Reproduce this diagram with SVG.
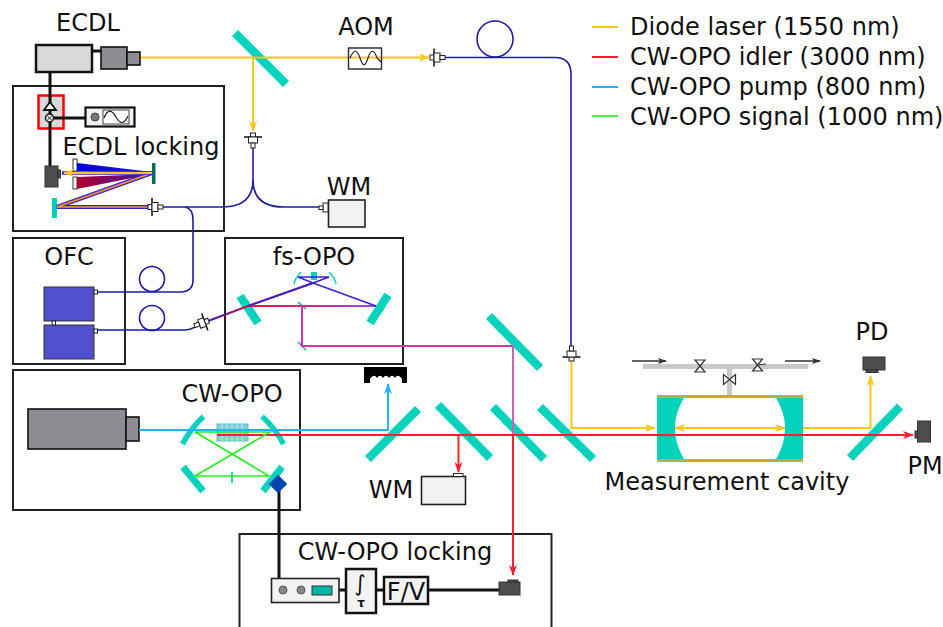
<svg xmlns="http://www.w3.org/2000/svg" width="943" height="627" viewBox="0 0 943 627">
<style>
text{font-family:"DejaVu Sans",sans-serif;font-size:24px;fill:#111}
.m{text-anchor:middle}
.box{fill:#fff;stroke:#222;stroke-width:2}
.mir{stroke:#00d2bc;stroke-width:8.5;fill:none}
.y{stroke:#ffc61a;stroke-width:2;fill:none}
.r{stroke:#ff1f2e;stroke-width:2;fill:none}
.b{stroke:#1fb4ff;stroke-width:2;fill:none}
.g{stroke:#22f01e;stroke-width:1.6;fill:none}
.f{stroke:#1c1ca8;stroke-width:1.6;fill:none}
.w{stroke:#111;stroke-width:3;fill:none}
.det{fill:#4d4d4d;stroke:#333;stroke-width:1}
.lt{fill:#f2f2f2;stroke:#222;stroke-width:1.6}
.gr{fill:#8e8c91;stroke:#111;stroke-width:1.6}
.las{fill:#5050d0;stroke:#333;stroke-width:1}
.sm{fill:#fff;stroke:#222;stroke-width:1}
.pipe{stroke:#c8c8c8;stroke-width:5;fill:none}
</style>
<defs>
<marker id="ay" markerWidth="11" markerHeight="8" refX="10" refY="4" orient="auto" markerUnits="userSpaceOnUse"><path d="M0 0L11 4L0 8L3 4Z" fill="#ffc61a"/></marker>
<marker id="ar" markerWidth="11" markerHeight="8" refX="10" refY="4" orient="auto" markerUnits="userSpaceOnUse"><path d="M0 0L11 4L0 8L3 4Z" fill="#ff1f2e"/></marker>
<marker id="ab" markerWidth="11" markerHeight="8" refX="10" refY="4" orient="auto" markerUnits="userSpaceOnUse"><path d="M0 0L11 4L0 8L3 4Z" fill="#1fb4ff"/></marker>
<marker id="ak" markerWidth="9" markerHeight="6" refX="8" refY="3" orient="auto" markerUnits="userSpaceOnUse"><path d="M0 0L9 3L0 6L2 3Z" fill="#333"/></marker>
<linearGradient id="gb" gradientUnits="userSpaceOnUse" x1="77" y1="0" x2="152" y2="0"><stop offset="0" stop-color="#0000e0"/><stop offset="1" stop-color="#3a10c0"/></linearGradient>
<linearGradient id="gr" gradientUnits="userSpaceOnUse" x1="77" y1="0" x2="152" y2="0"><stop offset="0" stop-color="#b00030"/><stop offset="1" stop-color="#3a10a0"/></linearGradient>
<linearGradient id="gp" gradientUnits="userSpaceOnUse" x1="207" y1="0" x2="313" y2="0"><stop offset="0" stop-color="#3020c0"/><stop offset=".4" stop-color="#d0104a"/><stop offset="1" stop-color="#3c20d8"/></linearGradient>
<linearGradient id="gh" gradientUnits="userSpaceOnUse" x1="248" y1="0" x2="376" y2="0"><stop offset="0" stop-color="#ff1030"/><stop offset="1" stop-color="#8a50e0"/></linearGradient>
<g id="cpl"><path d="M-3 -9V9" stroke="#111" stroke-width="1.5"/><rect x="-7" y="-2.5" width="4" height="5" class="sm"/><rect x="-3" y="-4.5" width="6" height="9" class="sm"/><rect x="3" y="-2" width="5" height="4" class="sm"/></g>
<g id="bow"><path d="M-5 -6H5L-5 6H5Z" fill="#fff" stroke="#333" stroke-width="1.2"/></g>
</defs>
<rect width="943" height="627" fill="#fff"/>

<g id="legend">
<path class="y" d="M592 27H618"/><path class="r" d="M592 57H618"/><path class="b" d="M592 87H618"/><path class="g" d="M592 116H618"/>
<text x="630" y="35">Diode laser (1550 nm)</text>
<text x="630" y="65">CW-OPO idler (3000 nm)</text>
<text x="630" y="95">CW-OPO pump (800 nm)</text>
<text x="630" y="125">CW-OPO signal (1000 nm)</text>
</g>

<g id="ecdl-locking"><rect class="box" x="13" y="86" width="211" height="145"/><text class="m" x="141" y="155">ECDL locking</text></g>
<g id="ofc"><rect class="box" x="13" y="238" width="112" height="126"/><text class="m" x="69" y="265">OFC</text>
<rect class="las" x="44" y="287" width="50" height="34"/><rect class="las" x="44" y="325" width="50" height="34"/>
<rect class="sm" x="94" y="290" width="3.5" height="4"/><rect class="sm" x="94" y="329" width="3.5" height="4"/><rect class="sm" x="52" y="321" width="3.5" height="4"/></g>
<g id="fs-opo"><rect class="box" x="225" y="238" width="178" height="126"/><text class="m" x="314" y="265">fs-OPO</text></g>
<g id="cw-opo"><rect class="box" x="13" y="370" width="287" height="140"/><text class="m" x="232" y="402">CW-OPO</text>
<rect x="28" y="409" width="98" height="40" class="gr"/><rect x="126" y="417" width="13" height="24" class="gr"/></g>
<g id="cw-opo-locking"><path d="M239.500 627V534H551.500V627" stroke="#222" stroke-width="2" fill="none"/><text class="m" x="395" y="560">CW-OPO locking</text></g>

<g id="bs1"><path class="mir" d="M235 33L286 84"/></g>
<g id="fsopo-optics"><path class="mir" d="M240 296L258 323"/><path class="mir" d="M388 295L370 323"/>
<path d="M294 284C295 279 298 275 301 272M336 284C335 279 332 275 329 272" stroke="#00d2bc" stroke-width="1.500" fill="none"/><rect x="311" y="272" width="6" height="8" fill="#00d2bc"/>
<path d="M298 302L306 309M298 342L306 350" stroke="#1ca0c8" stroke-width="1.500"/></g>
<g id="bs-top"><path class="mir" d="M489 316L540 368"/></g>
<g id="bs-row"><path class="mir" d="M368 459L418 409"/><path class="mir" d="M438 405L490 458"/><path class="mir" d="M493 407L544 459"/><path class="mir" d="M540 407L593 459"/></g>
<g id="output-bs"><path class="mir" d="M850 458L900 406.500"/></g>
<g id="cw-optics">
<rect x="217" y="424" width="31" height="17" fill="#7fd0d0" stroke="#5cc0c0"/>
<path d="M222 424V441M227 424V441M232 424V441M237 424V441M242 424V441" stroke="#fff" stroke-opacity=".6"/>
<path d="M182.500 444Q191 428 203.500 416.500" stroke="#00d2bc" stroke-width="5.500" fill="none"/><path d="M283.500 444Q275 428 262 416.500" stroke="#00d2bc" stroke-width="5.500" fill="none"/>
<path class="mir" d="M183 467L203 491" style="stroke-width:7"/><path class="mir" d="M282 467L263 491" style="stroke-width:7"/>
<path d="M232 472V483" stroke="#00d2bc" stroke-width="1.800"/></g>
<g id="cavity">
<path d="M657 398H684C678 408 675 418 675 428C675 438 678 449 684 459H657ZM803 398H776C782 408 785 418 785 428C785 438 782 449 776 459H803Z" fill="#00d2bc"/>
<path d="M657 396.500H803M657 460.500H803" stroke="#c9a93a" stroke-width="3" fill="none"/>
<path class="pipe" d="M643 366.500H808M729.500 366.500V395"/>
<use href="#bow" transform="translate(700 366)"/><use href="#bow" transform="translate(757.500 365)"/><use href="#bow" transform="translate(729.500 379.500) rotate(90)"/>
<path d="M757 365L766 364" stroke="#333"/>
<text class="m" x="727" y="490">Measurement cavity</text></g>
<g id="lock-parts">
<rect x="38.500" y="95.500" width="25" height="33" fill="#d9d9d9" stroke="#f00" stroke-width="2.500"/>
<rect x="85.500" y="107.500" width="49" height="19" fill="#f2f2f2" stroke="#111" stroke-width="2.200"/>
<rect x="103" y="110" width="26" height="14" fill="#fff" stroke="#444" stroke-width="1"/>
<circle cx="95" cy="117" r="4" fill="#777" stroke="#444"/>
<path d="M104 118C108 108 112 110 116 117S124 125 128 116" fill="none" stroke="#222" stroke-width="1.200"/>
<rect x="73" y="159" width="4" height="12" fill="#fff" stroke="#333"/><rect x="73" y="177" width="4" height="12" fill="#fff" stroke="#333"/>
<rect x="152" y="163" width="3.500" height="21" fill="#006e60"/>
<rect x="52" y="198" width="5" height="20" fill="#00d2bc"/>
</g>

<g id="connectors">
<path class="w" d="M50 72V166"/><path class="w" d="M50 118H85"/><path class="w" d="M279 488V578"/><path class="w" d="M339 590H346M376 590H384M428 590H499"/><path class="w" d="M92 51H101"/>
<path d="M77 163L152 172L77 171Z" fill="url(#gb)"/><path d="M77 177L152 174L77 189Z" fill="url(#gr)"/>
<path d="M152 173L57 207H152" fill="none" stroke="#3a22d0" stroke-width="4"/>
<path d="M152 173L57 207H152" fill="none" stroke="#ff9a1a" stroke-width="1.500"/>
<path d="M152 173H62" stroke="#3a22d0" stroke-width="3.500" fill="none"/>
<path class="y" d="M152 173H64" marker-end="url(#ay)"/>
<path class="f" d="M253 147V180C253 198 242 207 222 207H163"/>
<path class="f" d="M253 180C253 198 264 207 284 207H320"/>
<path class="f" d="M185 207C190 208 193 212 193 220V280C193 288 188 292 180 292H97"/>
<path class="f" d="M97 330H185C190 330 193 328 197 326"/>
<circle class="f" cx="152" cy="279" r="12.500"/><circle class="f" cx="152" cy="318" r="12.500"/>
<path class="f" d="M445 57.500H555C566 57.500 571 64 571 74V348"/>
<circle class="f" cx="495" cy="39" r="18"/>
<path d="M208 321L248 306L313 283" stroke="url(#gp)" stroke-width="2" fill="none"/>
<path d="M248 306H376" stroke="url(#gh)" stroke-width="2" fill="none"/>
<path d="M376 306L313 283L298 277H329L313 283L248 306" stroke="#3c20d8" stroke-width="1.500" fill="none"/>
<path d="M302 306V346H513" stroke="#d430a8" stroke-width="2" fill="none"/>
<path d="M513 346V435" stroke="#d060b8" stroke-width="2" fill="none"/>
<path class="y" d="M140 57.500H429" marker-end="url(#ay)"/>
<path class="y" d="M253 57.500V131" marker-end="url(#ay)"/>
<path class="y" d="M571.500 358V428H655" marker-end="url(#ay)"/>
<path class="y" d="M675 428H785" marker-end="url(#ay)"/>
<path class="y" d="M785 428H675" marker-end="url(#ay)"/>
<path class="y" d="M803 428H870.500V376" marker-end="url(#ay)"/>
<path class="b" d="M139 430H388V384" marker-end="url(#ab)"/>
<path class="r" d="M217 435H913" marker-end="url(#ar)"/>
<path class="r" d="M458.500 435V472" marker-end="url(#ar)"/>
<path class="r" d="M513 435V575" marker-end="url(#ar)"/>
<path class="g" d="M195 432H270L195 476H269L195 432"/>
<path d="M632 361H666" stroke="#333" stroke-width="1.500" marker-end="url(#ak)"/>
<path d="M785 361H820" stroke="#333" stroke-width="1.500" marker-end="url(#ak)"/>
</g>

<g id="ecdl"><text class="m" x="88" y="31">ECDL</text><rect x="36" y="45" width="56" height="27" fill="#d9d9d9" stroke="#111" stroke-width="2.500"/>
<rect x="101" y="47" width="26" height="22" class="gr"/><rect x="127" y="52" width="13" height="13" class="gr"/></g>
<g id="aom"><text class="m" x="366" y="35">AOM</text><rect x="348.500" y="48" width="33" height="21" fill="none" stroke="#333" stroke-width="1.500"/>
<path d="M350 58C354 49 357 49 360 58S365 67 368 58S374 49 377 58L381 62" fill="none" stroke="#222" stroke-width="1.200"/></g>
<g id="modulator"><path d="M44 110L50 102L56 110Z" fill="#fff" stroke="#111" stroke-width="1.800"/>
<circle cx="49.500" cy="118" r="4" fill="#fff" stroke="#111" stroke-width="1.500"/><path d="M47 115.500L52 120.500M52 115.500L47 120.500" stroke="#111"/>
<rect class="det" x="45" y="166" width="13" height="21"/><rect class="det" x="58" y="170" width="2.500" height="8"/></g>
<g id="couplers">
<use href="#cpl" transform="translate(155 207)"/>
<use href="#cpl" transform="translate(253 140) rotate(90)"/>
<use href="#cpl" transform="translate(437 57.500)"/>
<use href="#cpl" transform="translate(571.500 354) rotate(-90)"/>
<use href="#cpl" transform="translate(202 323) rotate(160)"/>
</g>
<g id="wm1"><text class="m" x="349" y="195">WM</text><rect x="328.500" y="200" width="36.500" height="27" class="lt"/><rect x="323" y="203" width="5" height="9" class="sm"/><rect x="319" y="206" width="4" height="3.500" class="sm"/></g>
<g id="grating"><path d="M364 367H407V383H402V379C399 375 397 375 395 378C393 375 391 375 389 378C387 375 385 375 383 378C381 375 379 375 377 378C375 375 373 375 370 379V383H364Z" fill="#000"/></g>
<g id="wm2"><text class="m" x="391" y="498">WM</text><rect x="421.500" y="476.500" width="44" height="28" class="lt"/><rect x="453.500" y="473.500" width="9.500" height="3" class="sm"/></g>
<g id="pzt"><rect x="271.500" y="477.500" width="13" height="13" fill="#0047b3" transform="rotate(45 278 484)"/></g>
<g id="lock-box">
<rect x="271.500" y="578.500" width="67.500" height="24" class="lt"/><circle cx="283" cy="590" r="4" fill="#888" stroke="#555"/><circle cx="301" cy="590" r="4" fill="#888" stroke="#555"/><rect x="312" y="586" width="20" height="9" fill="#00b5a8" stroke="#333"/>
<rect x="346" y="569" width="30" height="44" fill="#f2f2f2" stroke="#111" stroke-width="2.500"/><text class="m" x="360" y="591" style="font-size:22px">∫</text><text class="m" x="361" y="607" style="font-size:12px;font-weight:bold">τ</text>
<rect x="384" y="577" width="44" height="27" fill="#f2f2f2" stroke="#111" stroke-width="2.500"/><text class="m" x="406" y="600" style="font-size:24px">F/V</text>
<rect class="det" x="499" y="582" width="21" height="13"/><rect class="det" x="508" y="580" width="10" height="2"/></g>
<g id="output">
<text class="m" x="872" y="340">PD</text><rect class="det" x="863" y="357" width="22" height="13"/><rect class="det" x="866" y="370" width="12" height="2.500"/>
<text class="m" x="925" y="474">PM</text><rect class="det" x="917.500" y="421" width="13" height="21"/><rect class="det" x="915" y="431" width="2.500" height="7"/></g>
</svg>
